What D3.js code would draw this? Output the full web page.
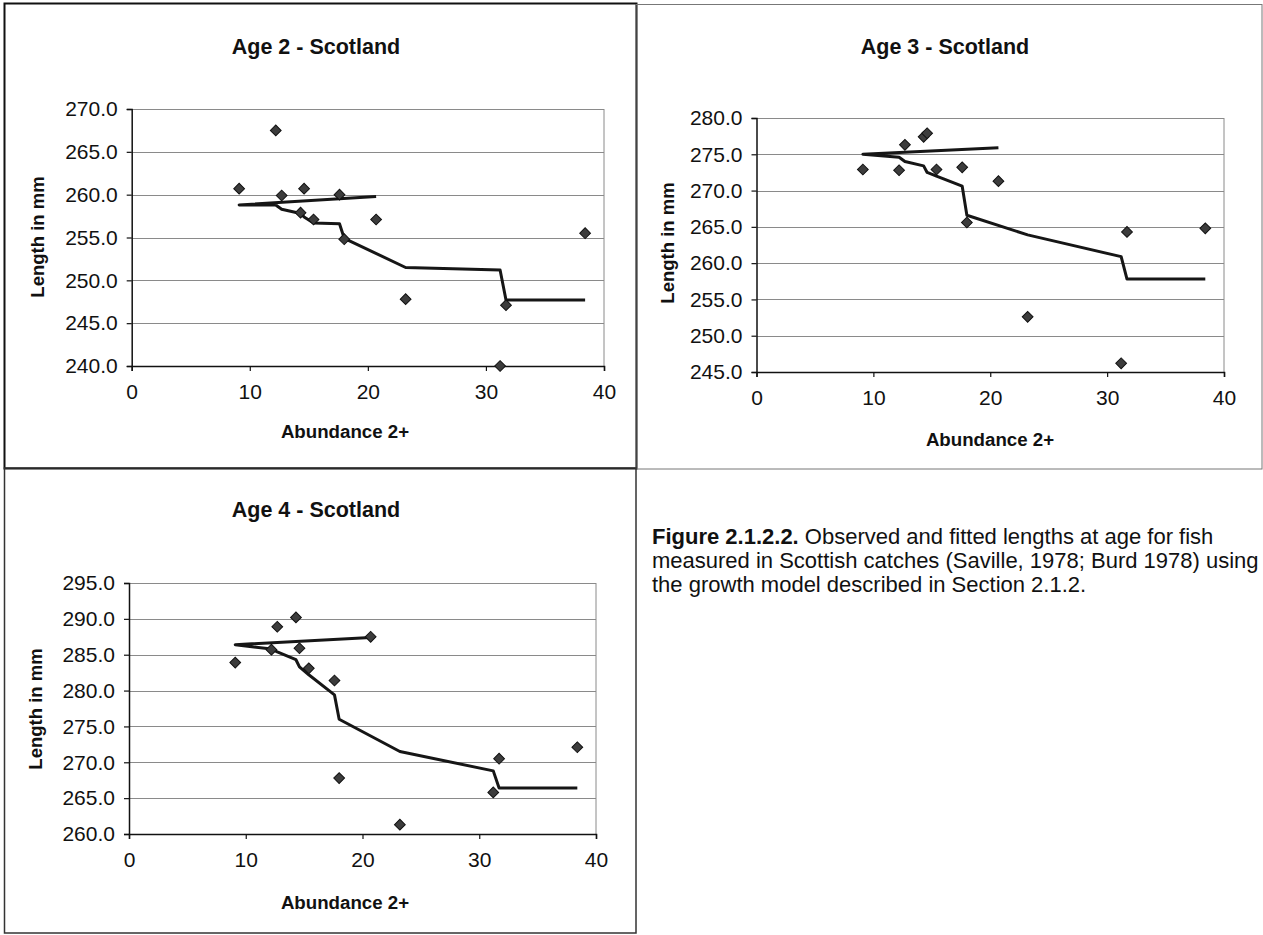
<!DOCTYPE html>
<html>
<head>
<meta charset="utf-8">
<script src="https://cdn.jsdelivr.net/npm/d3@7"></script>
<style>
  html, body { margin: 0; padding: 0; background: #fff; }
  svg { display: block; font-family: "Liberation Sans", Arial, sans-serif; }
</style>
</head>
<body>
<svg id="fig" width="1263" height="935"></svg>
<script>
// Abundance 2+ index for each survey year (same order for every series)
const abundance = [20.7, 9.1, 12.2, 12.7, 14.3, 14.6, 15.4, 17.6, 18.0, 23.2, 31.2, 31.7, 38.4];

// Age 2
const observedAge2 = [257.1, 260.7, 267.5, 259.9, 257.9, 260.7, 257.1, 260.0, 254.8, 247.8, 240.0, 247.1, 255.5];
const fittedAge2   = [259.8, 258.8, 258.8, 258.3, 257.8, 257.4, 256.7, 256.6, 254.9, 251.5, 251.2, 247.7, 247.7];

// Age 3
const observedAge3 = [271.3, 272.9, 272.8, 276.3, 277.4, 277.9, 272.9, 273.2, 265.6, 252.6, 246.2, 264.3, 264.8];
const fittedAge3   = [275.9, 275.0, 274.6, 274.0, 273.4, 272.5, 272.0, 270.6, 266.6, 263.9, 260.9, 257.8, 257.8];

// Age 4
const observedAge4 = [287.5, 283.9, 285.7, 288.9, 290.2, 285.9, 283.1, 281.4, 267.8, 261.3, 265.8, 270.5, 272.1];
const fittedAge4   = [287.4, 286.4, 285.8, 285.4, 284.3, 283.3, 282.2, 279.4, 276.0, 271.5, 268.8, 266.4, 266.4];

// Axis tick values
const xTicks = [0, 10, 20, 30, 40];
const yTicksAge2 = [240, 245, 250, 255, 260, 265, 270];
const yTicksAge3 = [245, 250, 255, 260, 265, 270, 275, 280];
const yTicksAge4 = [260, 265, 270, 275, 280, 285, 290, 295];

const titles = ["Age 2 - Scotland", "Age 3 - Scotland", "Age 4 - Scotland"];
const xTitle = "Abundance 2+";
const yTitle = "Length in mm";

const svg = d3.select("#fig");

// Frames around each panel
svg.append("rect").attr("x", 4.5).attr("y", 3.5).attr("width", 632).attr("height", 465)
  .attr("fill", "none").attr("stroke", "#111").attr("stroke-width", 2);
svg.append("rect").attr("x", 636).attr("y", 4.5).attr("width", 626).attr("height", 464.5)
  .attr("fill", "none").attr("stroke", "#777").attr("stroke-width", 1);
svg.append("rect").attr("x", 4.5).attr("y", 468).attr("width", 631.5).attr("height", 465)
  .attr("fill", "none").attr("stroke", "#333").attr("stroke-width", 1.5);

const panels = [
  { obs: observedAge2, fit: fittedAge2, yTicks: yTicksAge2, title: titles[0],
    x0: 131.7, x1: 604, y0: 109, y1: 366, titleX: 316, titleY: 54,
    xTitleX: 345, xTitleY: 438, yTitleX: 38, yTitleY: 237 },
  { obs: observedAge3, fit: fittedAge3, yTicks: yTicksAge3, title: titles[1],
    x0: 756.5, x1: 1224, y0: 118, y1: 372, titleX: 945, titleY: 54,
    xTitleX: 990, xTitleY: 446, yTitleX: 668, yTitleY: 243 },
  { obs: observedAge4, fit: fittedAge4, yTicks: yTicksAge4, title: titles[2],
    x0: 129, x1: 596, y0: 583, y1: 834, titleX: 316, titleY: 517,
    xTitleX: 345, xTitleY: 909, yTitleX: 36, yTitleY: 709 }
];

const diamond = d3.symbol().type(d3.symbolSquare).size(58);

panels.forEach(p => {
  const yMin = d3.min(p.yTicks), yMax = d3.max(p.yTicks);
  const x = d3.scaleLinear().domain([0, 40]).range([p.x0, p.x1]);
  const y = d3.scaleLinear().domain([yMin, yMax]).range([p.y1, p.y0]);
  const g = svg.append("g");

  // horizontal gridlines
  g.append("g").selectAll("line").data(p.yTicks.filter(v => v !== yMin)).join("line")
    .attr("x1", p.x0).attr("x2", p.x1)
    .attr("y1", d => Math.round(y(d)) + 0.5).attr("y2", d => Math.round(y(d)) + 0.5)
    .attr("stroke", "#8a8a8a").attr("stroke-width", 1);
  // right edge of plot area
  g.append("line").attr("x1", p.x1).attr("x2", p.x1).attr("y1", p.y0).attr("y2", p.y1)
    .attr("stroke", "#8a8a8a").attr("stroke-width", 1);

  // y axis
  const yAxis = d3.axisLeft(y).tickValues(p.yTicks).tickFormat(d3.format(".1f"))
    .tickSize(5).tickPadding(9);
  const ya = g.append("g").attr("transform", `translate(${p.x0},0)`).call(yAxis);
  // x axis
  const xAxis = d3.axisBottom(x).tickValues(xTicks).tickFormat(d3.format("d"))
    .tickSize(5).tickPadding(13);
  const xa = g.append("g").attr("transform", `translate(0,${p.y1})`).call(xAxis);

  [ya, xa].forEach(a => {
    a.select(".domain").attr("stroke", "#111").attr("stroke-width", 1.5);
    a.selectAll(".tick line").attr("stroke", "#111").attr("stroke-width", 1.2);
    a.selectAll(".tick text").attr("fill", "#111").attr("font-size", 21)
      .attr("font-family", "'Liberation Sans', Arial, sans-serif");
  });

  // fitted line, in survey order
  const line = d3.line().x((d, i) => x(abundance[i])).y(d => y(d));
  g.append("path").datum(p.fit).attr("d", line)
    .attr("fill", "none").attr("stroke", "#161616").attr("stroke-width", 3)
    .attr("stroke-linejoin", "round").attr("stroke-linecap", "butt");

  // observed lengths
  g.append("g").selectAll("path").data(p.obs).join("path")
    .attr("d", diamond)
    .attr("transform", (d, i) => `translate(${x(abundance[i])},${y(d)}) rotate(45)`)
    .attr("fill", "#3c3c3c").attr("stroke", "#111").attr("stroke-width", 1);

  // titles
  g.append("text").attr("x", p.titleX).attr("y", p.titleY).attr("text-anchor", "middle")
    .attr("font-size", 21.5).attr("font-weight", "bold").attr("fill", "#111").text(p.title);
  g.append("text").attr("x", p.xTitleX).attr("y", p.xTitleY).attr("text-anchor", "middle")
    .attr("font-size", 18.7).attr("font-weight", "bold").attr("fill", "#111").text(xTitle);
  g.append("text")
    .attr("transform", `translate(${p.yTitleX},${p.yTitleY}) rotate(-90)`)
    .attr("text-anchor", "middle").attr("dy", "0.35em")
    .attr("font-size", 18.5).attr("font-weight", "bold").attr("fill", "#111").text(yTitle);
});

// Figure caption
const captionSize = 22;
const caption = svg.append("text").attr("x", 652).attr("y", 544)
  .attr("font-size", captionSize).attr("fill", "#111");
caption.append("tspan").attr("font-weight", "bold").text("Figure 2.1.2.2.");
caption.append("tspan").text(" Observed and fitted lengths at age for fish");
svg.append("text").attr("x", 652).attr("y", 568).attr("font-size", captionSize).attr("fill", "#111")
  .text("measured in Scottish catches (Saville, 1978; Burd 1978) using");
svg.append("text").attr("x", 652).attr("y", 592).attr("font-size", captionSize).attr("fill", "#111")
  .text("the growth model described in Section 2.1.2.");
</script>
</body>
</html>
